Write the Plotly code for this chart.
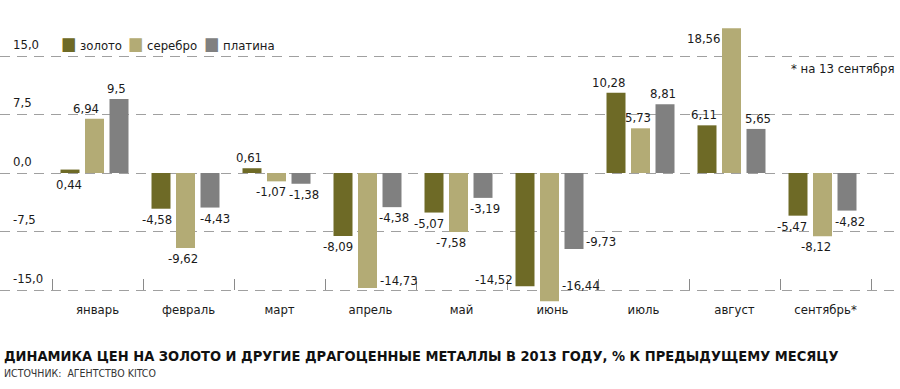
import plotly.graph_objects as go

months = ["январь", "февраль", "март", "апрель", "май", "июнь", "июль", "август", "сентябрь*"]
series_names = ["золото", "серебро", "платина"]
gold = [0.44, -4.58, 0.61, -8.09, -5.07, -14.52, 10.28, 6.11, -5.47]
silver = [6.94, -9.62, -1.07, -14.73, -7.58, -16.44, 5.73, 18.56, -8.12]
platinum = [9.5, -4.43, -1.38, -4.38, -3.19, -9.73, 8.81, 5.65, -4.82]
y_ticks = [15.0, 7.5, 0.0, -7.5, -15.0]
y_ticktext = ["15,0", "7,5", "0,0", "-7,5", "-15,0"]

colors = ["#6e6a26", "#b3ab75", "#808080"]
FONT = "DejaVu Sans Condensed, sans-serif"
TXT = "#1a1a1a"

# geometry (style)
W, H = 900, 389
M_T, M_B = 20, 86
H_PLOT = H - M_T - M_B
PX_X = 91.0                       # px per category
BAR_W = 19 / PX_X
offsets = [-37 / PX_X, -12.5 / PX_X, 12 / PX_X]

def py(px):  # pixel row -> paper y
    return 1 - (px - M_T) / H_PLOT

# label placement styles: (mode, dx px)
label_style = {
    (0, 0): ("base", -1), (0, 1): ("out", -9), (0, 2): ("out", -3),
    (1, 0): ("out", -4), (1, 1): ("out", -3), (1, 2): ("out", 5),
    (2, 0): ("out", -3), (2, 1): ("out", -6), (2, 2): ("out", 3),
    (3, 0): ("out", -5), (3, 1): ("right", 0), (3, 2): ("out", 2),
    (4, 0): ("out", -5), (4, 1): ("out", -8), (4, 2): ("out", 2),
    (5, 0): ("left", 0), (5, 1): ("right", 0), (5, 2): ("right", 0),
    (6, 0): ("out", -8), (6, 1): ("out", -3), (6, 2): ("out", -2),
    (7, 0): ("out", -3), (7, 1): ("left", 0), (7, 2): ("out", 2),
    (8, 0): ("out", -6), (8, 1): ("out", -7), (8, 2): ("out", 3),
}

fig = go.Figure()
all_series = [gold, silver, platinum]
xs = list(range(len(months)))
for s, (name, vals) in enumerate(zip(series_names, all_series)):
    fig.add_trace(go.Bar(
        x=xs, y=vals, name=name, marker=dict(color=colors[s], line=dict(width=0)),
        width=BAR_W, offset=offsets[s], hoverinfo="skip", showlegend=False,
    ))

def fmt(v):
    txt = ("%.2f" % v).replace(".", ",")
    if abs(v * 10 - round(v * 10)) < 1e-9:
        txt = txt[:-1]
    return txt

lab_font = dict(family=FONT, size=13, color=TXT)
for s, vals in enumerate(all_series):
    for m, v in enumerate(vals):
        mode, dx = label_style[(m, s)]
        xc = m + offsets[s] + BAR_W / 2
        a = dict(x=xc, y=v, xref="x", yref="y", text=fmt(v), showarrow=False,
                 font=lab_font, xshift=dx)
        if mode == "out":
            a.update(yanchor="bottom" if v >= 0 else "top", yshift=1 if v >= 0 else -1)
        elif mode == "base":
            a.update(y=0, yanchor="top", yshift=-2)
        elif mode == "right":
            a.update(xanchor="left", xshift=10, yanchor="middle", yshift=7)
            if v < -16:
                a.update(yshift=16)
        elif mode == "left":
            a.update(xanchor="right", xshift=-10, yanchor="middle",
                     yshift=(-10 if v > 0 else 7))
        fig.add_annotation(**a)

# legend (series names with colour swatches)
legend_x_px = [59, 126, 202]
for s, name in enumerate(series_names):
    fig.add_annotation(
        x=legend_x_px[s] / W, y=py(43), xref="paper", yref="paper", xanchor="left", yanchor="middle",
        showarrow=False,
        text='<span style="color:%s;font-size:18px">■</span> %s' % (colors[s], name),
        font=dict(family=FONT, size=13, color=TXT),
    )

fig.add_annotation(x=1, y=py(68), xref="paper", yref="paper", xanchor="right", yanchor="middle",
                   xshift=-4, text="* на 13 сентября", showarrow=False,
                   font=dict(family=FONT, size=13, color=TXT))

fig.add_annotation(x=0, y=py(356), xref="paper", yref="paper", xanchor="left",
                   yanchor="middle", xshift=2, showarrow=False,
                   text="<b>ДИНАМИКА ЦЕН НА ЗОЛОТО И ДРУГИЕ ДРАГОЦЕННЫЕ МЕТАЛЛЫ В 2013 ГОДУ, % К ПРЕДЫДУЩЕМУ МЕСЯЦУ</b>",
                   font=dict(family=FONT, size=14.5, color="#111111"))
fig.add_annotation(x=0, y=py(373), xref="paper", yref="paper", xanchor="left",
                   yanchor="middle", xshift=2, showarrow=False,
                   text="ИСТОЧНИК:  АГЕНТСТВО KITCO",
                   font=dict(family=FONT, size=10.5, color="#333333"))

fig.update_layout(
    width=W, height=H,
    margin=dict(l=0, r=0, t=M_T, b=M_B, autoexpand=False),
    paper_bgcolor="white", plot_bgcolor="white",
    barmode="overlay",
    showlegend=False,
    font=dict(family=FONT, size=13, color=TXT),
    xaxis=dict(
        range=[-97.5 / PX_X, (W - 97.5) / PX_X],
        tickmode="array", tickvals=xs, ticktext=months,
        ticks="", showgrid=False, zeroline=False, showline=False,
        anchor="free", position=(H - M_B - 290) / H_PLOT, automargin=False,
        tickfont=dict(family=FONT, size=13, color=TXT),
        ticklabelstandoff=10,
        minor=dict(tickmode="array", tickvals=[i - 0.5 for i in range(len(months) + 1)],
                   ticks="inside", ticklen=11, tickcolor="#8a8a8a", tickwidth=1, showgrid=False),
    ),
    yaxis=dict(
        range=[(173 - (H - M_B)) / 7.8, (173 - M_T) / 7.8],
        tickmode="array", tickvals=y_ticks, ticktext=y_ticktext,
        showgrid=True, gridcolor="#a0a0a0", gridwidth=1, griddash="10px,7px",
        zeroline=False, showline=False, ticks="", automargin=False,
        ticklabelposition="inside", ticklabelstandoff=10, ticklabelshift=-12,
        tickfont=dict(family=FONT, size=13, color=TXT),
    ),
)

fig.write_html(
    "out.html",
    config={"displayModeBar": False},
    post_script="document.body.style.margin='0';document.body.style.padding='0';",
)
